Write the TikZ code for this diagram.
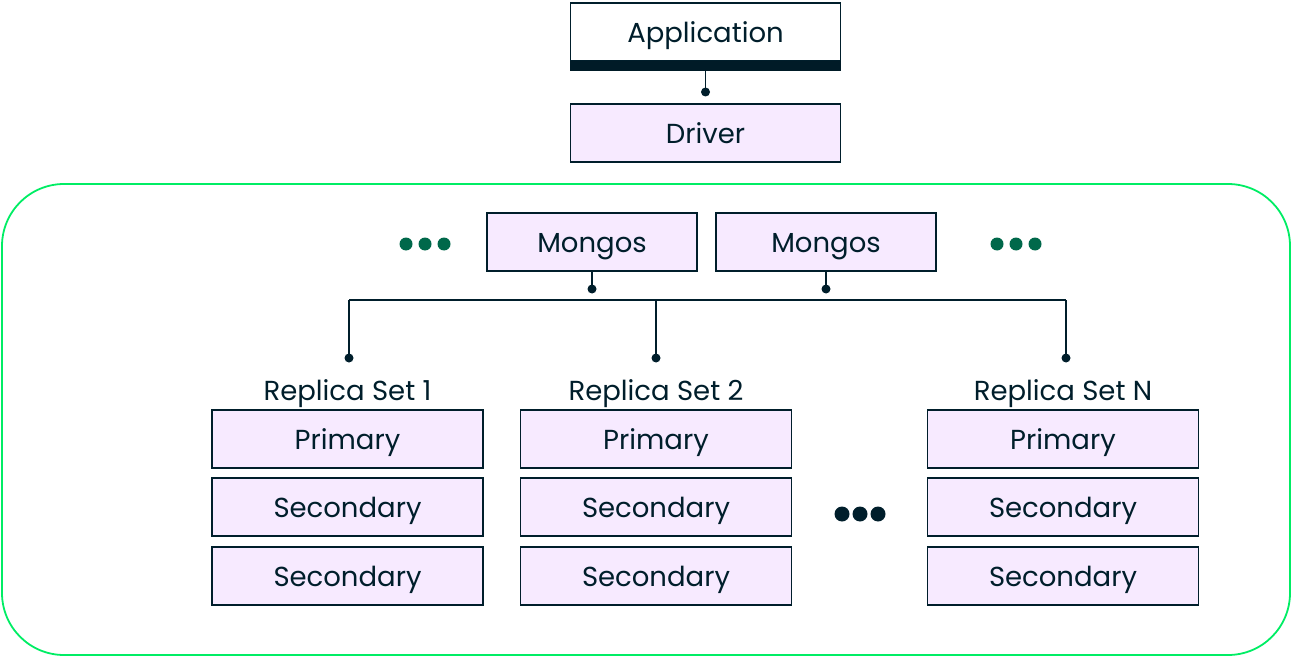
\documentclass[tikz,border=0pt]{standalone}
\usepackage{fontspec}
\setmainfont{Poppins}
\definecolor{ink}{HTML}{001E2B}
\definecolor{boxfill}{HTML}{F7EAFF}
\definecolor{lgreen}{HTML}{00ED64}
\definecolor{dgreen}{HTML}{00684A}
\tikzset{
  box/.style={draw=ink, line width=1.8pt, fill=boxfill, minimum height=58pt, inner sep=0pt, text=ink, font=\fontsize{27.5}{30}\selectfont, text height=26pt, text depth=5pt},
  lbl/.style={text=ink, inner sep=0pt, font=\fontsize{27.5}{30}\selectfont, text height=26pt, text depth=5pt},
  wire/.style={draw=ink, line width=1.8pt},
  jdot/.style={circle, fill=ink, inner sep=0pt, minimum size=9pt},
  gdot/.style={circle, fill=dgreen, inner sep=0pt, minimum size=13pt},
  bdot/.style={circle, fill=ink, inner sep=0pt, minimum size=15pt},
}
\begin{document}
\begin{tikzpicture}[x=1pt,y=-1pt]
\useasboundingbox (0,0) rectangle (1293,658);
% cluster frame
\draw[lgreen, line width=1.8pt, rounded corners=62pt] (2,184) rectangle (1290,655);
% application
\node[box, fill=white, minimum width=270pt] (app) at (705.5,32) {Application};
\fill[ink!90!black] (570,61) rectangle (841,71);
\coordinate (appb) at (705.5,71);
\node[jdot] (d0) at (705.5,92) {};
\draw[wire] (appb) -- (d0.center);
\node[box, minimum width=270pt] (drv) at (705.5,133) {Driver};
% mongos
\node[box, minimum width=210pt] (m1) at (592,242) {Mongos};
\node[box, minimum width=220pt] (m2) at (826,242) {Mongos};
\node[jdot] (dm1) at (592,289) {};
\node[jdot] (dm2) at (826,289) {};
\draw[wire] (m1.south) -- (dm1.center);
\draw[wire] (m2.south) -- (dm2.center);
\foreach \x [count=\i] in {406,425,444} \node[gdot] (gl\i) at (\x,244) {};
\foreach \x [count=\i] in {997,1016,1035} \node[gdot] (gr\i) at (\x,244) {};
% bus
\coordinate (b1) at (349,300);
\coordinate (b2) at (656,300);
\coordinate (b3) at (1066,300);
\draw[wire] (b1) -- (b3);
\node[jdot] (r1d) at (349,358) {};
\node[jdot] (r2d) at (656,358) {};
\node[jdot] (r3d) at (1066,358) {};
\draw[wire] (b1) -- (r1d.center);
\draw[wire] (b2) -- (r2d.center);
\draw[wire] (b3) -- (r3d.center);
% replica sets
\foreach \cx/\nm/\lab in {347.5/a/1, 656/b/2, 1063/c/N}{
  \node[lbl] (lab\nm) at (\cx,390) {Replica Set \lab};
  \node[box, minimum width=271pt] (p\nm) at (\cx,439) {Primary};
  \node[box, minimum width=271pt] (s\nm) at (\cx,507) {Secondary};
  \node[box, minimum width=271pt] (t\nm) at (\cx,576) {Secondary};
}
\foreach \x [count=\i] in {842,860,878} \node[bdot] (bd\i) at (\x,514) {};
\end{tikzpicture}
\end{document}
